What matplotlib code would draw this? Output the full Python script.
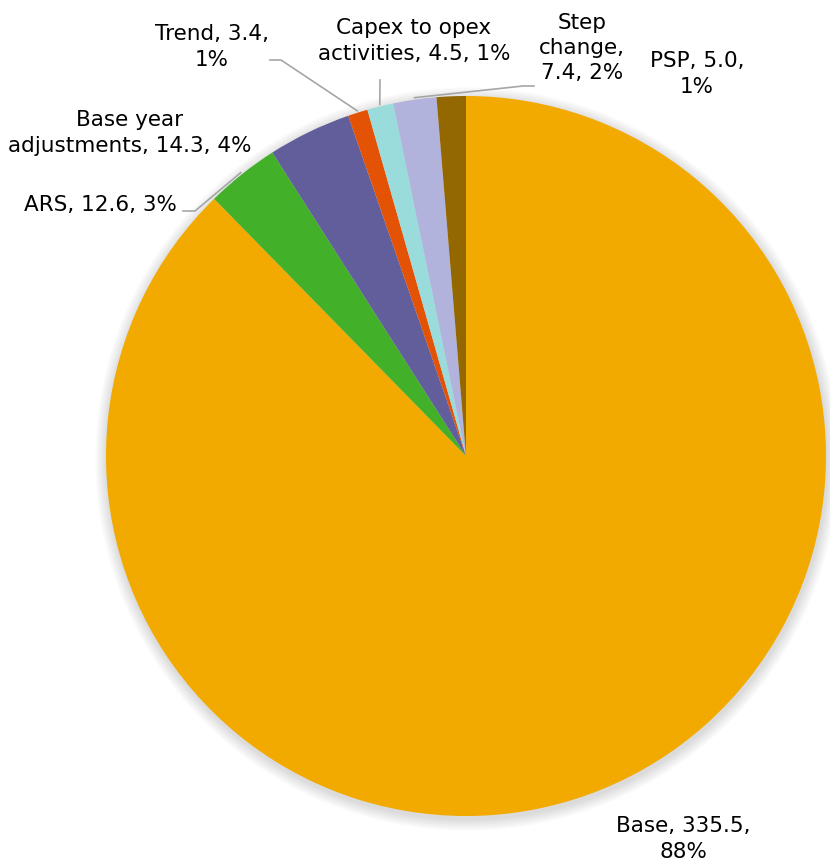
import numpy as np
import matplotlib
matplotlib.use("Agg")
import matplotlib.pyplot as plt
from matplotlib.patches import Circle

# data, clockwise from 12 o'clock
labels = ["Base", "ARS", "Base year adjustments", "Trend",
          "Capex to opex activities", "Step change", "PSP"]
values = [335.5, 12.6, 14.3, 3.4, 4.5, 7.4, 5.0]
label_text = ["Base, 335.5,\n88%", "ARS, 12.6, 3%", "Base year\nadjustments, 14.3, 4%",
              "Trend, 3.4,\n1%", "Capex to opex\nactivities, 4.5, 1%",
              "Step\nchange,\n7.4, 2%", "PSP, 5.0,\n1%"]
colors = ["#F2A900", "#43B02A", "#615E9B", "#E35205", "#9ADBDB", "#B1B3DD", "#946800"]

W, H = 830, 867
fig = plt.figure(figsize=(W / 100, H / 100), dpi=100)
ax = fig.add_axes([0, 0, 1, 1])

cx, cy, r = 466, H - 456, 360

# soft shadow round the pie
for i in range(12):
    ax.add_patch(Circle((cx + 1, cy - 3), r + 12 - i, color="black",
                        alpha=0.012, lw=0, zorder=0))

wedges, _ = ax.pie(values, colors=colors, startangle=90, counterclock=False,
                   center=(cx, cy), radius=r, frame=True,
                   wedgeprops=dict(linewidth=0))
ax.set_xlim(0, W)
ax.set_ylim(0, H)
ax.set_aspect("equal")
ax.axis("off")

# label positions (pixels from top-left), leader polylines
pos = {
    "Base": (683, 839),
    "ARS": (100, 205),
    "Base year adjustments": (130, 133),
    "Trend": (212, 47),
    "Capex to opex activities": (414, 41),
    "Step change": (582, 48),
    "PSP": (697, 74),
}
leaders = {
    "ARS": [(183, 211), (195, 211)],
    "Trend": [(270, 60), (281, 60)],
    "Capex to opex activities": [(380, 80), (380, 81)],
    "Step change": [(534, 86), (523, 86)],
}

for lab, txt, w in zip(labels, label_text, wedges):
    x, y = pos[lab]
    ax.text(x, H - y, txt, ha="center", va="center", fontsize=15.5,
            family="DejaVu Sans", color="#000000", linespacing=1.33)
    if lab in leaders:
        ang = np.deg2rad((w.theta1 + w.theta2) / 2)
        ex = cx + (r + 2) * np.cos(ang)
        ey = cy + (r + 2) * np.sin(ang)
        pts = [(px, H - py) for px, py in leaders[lab]] + [(ex, ey)]
        xs, ys = zip(*pts)
        ax.plot(xs, ys, color="#A6A6A6", lw=1.2, zorder=3)

fig.savefig("out.png", dpi=100)
